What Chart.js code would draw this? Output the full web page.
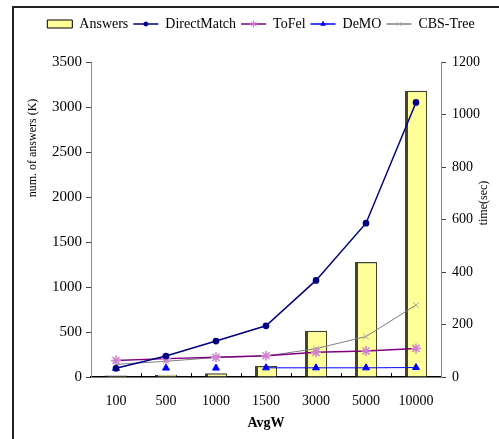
<!DOCTYPE html>
<html>
<head>
<meta charset="utf-8">
<script src="https://cdn.jsdelivr.net/npm/chart.js@4/dist/chart.umd.min.js"></script>
<style>
  html, body { margin: 0; padding: 0; background: #fff; }
  #wrap { position: relative; width: 499px; height: 439px; overflow: hidden; }
  #frame { position: absolute; left: 12px; top: 6px; width: 600px; height: 600px;
           border-left: 2px solid #222; border-top: 2px solid #222; }
  canvas { position: absolute; left: 0; top: 0; }
</style>
</head>
<body>
<div id="wrap">
  <div id="frame"></div>
  <canvas id="chart" width="499" height="439"></canvas>
</div>
<script>
// data
const categories = ["100", "500", "1000", "1500", "3000", "5000", "10000"];
const answers = [18, 26, 42, 122, 514, 1278, 3180];      // num. of answers (K), left axis
const directMatch = [33, 80, 137, 195, 368, 586, 1046];  // time(sec), right axis
const toFel = [63, 70, 75, 81, 94, 99, 109];
const deMO = [33, 34, 34, 35, 35, 35, 36];
const cbsTree = [48, 60, 74, 80, 108, 154, 274];

const serif = "'Liberation Serif', 'DejaVu Serif', serif";

// more room under the legend than chart.js gives
const legendGap = {
  id: "legendGap",
  beforeUpdate(chart) {
    const lg = chart.legend;
    if (lg && !lg._gapPatched) {
      const fit = lg.fit.bind(lg);
      lg.fit = function () { fit(); this.height += 21; };
      lg._gapPatched = true;
    }
  }
};

// legend markers for the line series
const legendMarkers = {
  id: "legendMarkers",
  afterDraw(chart) {
    const lg = chart.legend;
    if (!lg || !lg.legendHitBoxes) return;
    const ctx = chart.ctx;
    lg.legendItems.forEach((it, i) => {
      const ds = chart.data.datasets[it.datasetIndex];
      if (ds.type !== "line") return;
      const hb = lg.legendHitBoxes[i];
      ctx.save();
      ctx.fillStyle = ds.pointBackgroundColor;
      ctx.strokeStyle = ds.pointBorderColor;
      ctx.lineWidth = 1;
      Chart.helpers.drawPoint(ctx, { pointStyle: ds.pointStyle, radius: Math.max(ds.pointRadius - 1.5, 2), borderWidth: 1, rotation: 0 },
        hb.left + 12.5, hb.top + 7);
      ctx.restore();
    });
  }
};

// the two rotated y titles sit off-centre in the original
const yTitles = {
  id: "yTitles",
  afterDraw(chart) {
    const ctx = chart.ctx, a = chart.chartArea;
    ctx.save();
    ctx.fillStyle = "#000";
    ctx.font = "12px " + serif;
    ctx.textAlign = "center";
    ctx.textBaseline = "middle";
    ctx.translate(a.left - 58, a.top + 86);
    ctx.rotate(-Math.PI / 2);
    ctx.fillText("num. of answers (K)", 0, 0);
    ctx.restore();
    ctx.save();
    ctx.fillStyle = "#000";
    ctx.font = "12px " + serif;
    ctx.textAlign = "center";
    ctx.textBaseline = "middle";
    ctx.translate(a.right + 43, a.top + 141);
    ctx.rotate(-Math.PI / 2);
    ctx.fillText("time(sec)", 0, 0);
    ctx.restore();
  }
};

const plain = (v) => String(v);

new Chart(document.getElementById("chart"), {
  data: {
    labels: categories,
    datasets: [
      {
        type: "bar",
        label: "Answers",
        data: answers,
        yAxisID: "y",
        order: 1,
        backgroundColor: "#ffff99",
        borderColor: "#45452c",
        borderWidth: { top: 1.5, left: 3, right: 1, bottom: 0 },
        barPercentage: 0.44,
        categoryPercentage: 1.0
      },
      {
        type: "line",
        label: "DirectMatch",
        data: directMatch,
        yAxisID: "y1",
        order: 0,
        borderColor: "#000080",
        borderWidth: 1.5,
        pointStyle: "circle",
        pointRadius: 2.6,
        pointBackgroundColor: "#000080",
        pointBorderColor: "#000080"
      },
      {
        type: "line",
        label: "ToFel",
        data: toFel,
        yAxisID: "y1",
        order: 0,
        borderColor: "#800080",
        borderWidth: 1.5,
        pointStyle: "star",
        pointRadius: 5,
        pointBackgroundColor: "#d080d0",
        pointBorderColor: "#d080d0"
      },
      {
        type: "line",
        label: "DeMO",
        data: deMO,
        yAxisID: "y1",
        order: 0,
        borderColor: "#0000ff",
        borderWidth: 1,
        pointStyle: "triangle",
        pointRadius: 4,
        pointBackgroundColor: "#0000ff",
        pointBorderColor: "#0000ff",
        segment: {
          borderColor: (c) => (c.p0DataIndex < 3 ? "rgba(0,0,0,0)" : "#0000ff")
        }
      },
      {
        type: "line",
        label: "CBS-Tree",
        data: cbsTree,
        yAxisID: "y1",
        order: 0,
        borderColor: "#808080",
        borderWidth: 1,
        pointStyle: "crossRot",
        pointRadius: 4,
        pointBackgroundColor: "#a8a8a8",
        pointBorderColor: "#a8a8a8"
      }
    ]
  },
  options: {
    responsive: false,
    animation: false,
    layout: { padding: { top: 12, left: 23, right: 0, bottom: 0 } },
    plugins: {
      tooltip: { enabled: false },
      legend: {
        position: "top",
        labels: {
          color: "#000",
          font: { family: serif, size: 14 },
          usePointStyle: true,
          pointStyleWidth: 25,
          boxHeight: 8,
          padding: 5,
          sort: (a, b) => a.datasetIndex - b.datasetIndex,
          generateLabels(chart) {
            const items = Chart.defaults.plugins.legend.labels.generateLabels(chart);
            items.forEach((it) => {
              const ds = chart.data.datasets[it.datasetIndex];
              if (ds.type === "bar") {
                it.pointStyle = "rect";
                it.fillStyle = "#ffff99";
                it.strokeStyle = "#000";
                it.lineWidth = 1;
              } else {
                it.pointStyle = "line";
                it.strokeStyle = ds.borderColor;
                it.lineWidth = 1.5;
              }
            });
            return items;
          }
        }
      }
    },
    scales: {
      x: {
        offset: true,
        grid: { offset: true, drawOnChartArea: false, tickLength: -4, color: "#000" },
        border: { color: "#000", width: 1.5 },
        ticks: { color: "#000", font: { family: serif, size: 14 }, padding: 20, maxRotation: 0 },
        title: { display: true, text: "AvgW", color: "#000",
                 font: { family: serif, size: 14, weight: "bold" }, padding: { top: 0, bottom: 7 } },
        afterFit(s) { s.height = 62; }
      },
      y: {
        position: "left",
        min: 0,
        max: 3500,
        ticks: { stepSize: 500, color: "#000", font: { family: serif, size: 15 }, padding: 4, callback: plain },
        grid: { drawOnChartArea: false, tickLength: 5, color: "#444" },
        border: { color: "#888", width: 1 },
        afterFit(s) { s.width = 68; }
      },
      y1: {
        position: "right",
        min: 0,
        max: 1200,
        ticks: { stepSize: 200, color: "#000", font: { family: serif, size: 14 }, padding: 6, callback: plain },
        grid: { drawOnChartArea: false, tickLength: 5, color: "#444" },
        border: { color: "#888", width: 1 },
        afterFit(s) { s.width = 58; }
      }
    }
  },
  plugins: [legendGap, legendMarkers, yTitles]
});
</script>
</body>
</html>
